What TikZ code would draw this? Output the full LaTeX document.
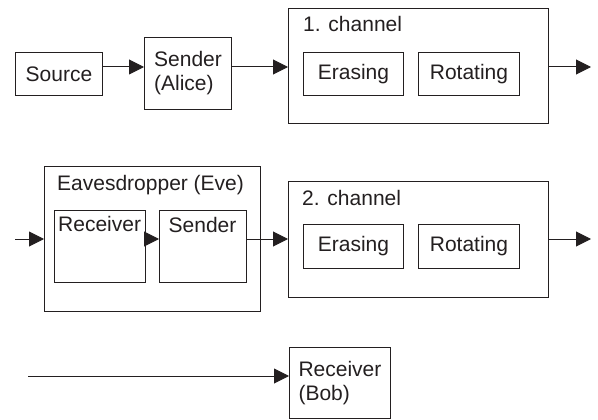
\documentclass[tikz,border=0pt]{standalone}
\usepackage{fontspec}
\setmainfont{Liberation Sans}
\usetikzlibrary{arrows.meta}
\definecolor{ink}{RGB}{35,31,32}
\begin{document}
\begin{tikzpicture}[x=1pt,y=-1pt,
  blk/.style={draw=ink, line width=1pt, inner sep=0pt, anchor=north west,
              text=ink, font=\fontsize{21}{24}\selectfont},
  txt/.style={text=ink, inner sep=0pt, font=\fontsize{21}{24}\selectfont},
  conn/.style={draw=ink, line width=1pt, -{Triangle[length=15pt,width=15pt]}}]
\useasboundingbox (0,0) rectangle (598,420);

% first row: source, Alice and the first channel
\node[blk, minimum width=87, minimum height=43] (src) at (15,52) {Source};
\node[blk, minimum width=87, minimum height=72, align=left] (alice) at (144,37) {Sender\\(Alice)};
\node[blk, minimum width=260, minimum height=115] (ch1) at (288,8) {};
\node[txt, anchor=base west] (ch1lbl) at (303,32) {1. channel};
\node[blk, minimum width=100, minimum height=43] (er1) at (303,52) {Erasing};
\node[blk, minimum width=101, minimum height=43] (rot1) at (418,52) {Rotating};

% second row: Eve and the second channel
\node[blk, minimum width=216, minimum height=145] (eve) at (44,166) {};
\node[txt, anchor=base west] (evelbl) at (57,190) {Eavesdropper (Eve)};
\node[blk, minimum width=91, minimum height=72] (erecv) at (54,210) {};
\node[txt, anchor=base west] (erecvlbl) at (58,231) {Receiver};
\node[blk, minimum width=87, minimum height=72] (esend) at (159,210) {};
\node[txt, anchor=base] (esendlbl) at (202.5,233) {Sender};
\node[blk, minimum width=260, minimum height=116] (ch2) at (288,181) {};
\node[txt, anchor=base west] (ch2lbl) at (302,205) {2. channel};
\node[blk, minimum width=100, minimum height=44] (er2) at (303,224) {Erasing};
\node[blk, minimum width=101, minimum height=44] (rot2) at (418,224) {Rotating};

% third row: Bob
\node[blk, minimum width=101, minimum height=71, align=left] (bob) at (289,347) {Receiver\\(Bob)};

% free ends of the connectors
\coordinate (r1) at (0,67);
\coordinate (out1) at (591,67);
\coordinate (in2) at (15,239);
\coordinate (out2) at (591,239);
\coordinate (in3) at (28,376);

% connectors
\draw[conn] (src.east |- r1) -- (alice.west |- r1);
\draw[conn] (alice.east |- r1) -- (ch1.west |- r1);
\draw[conn] (ch1.east |- r1) -- (out1);
\draw[conn] (in2) -- (in2 -| eve.west);
\draw[conn] (erecv.east |- in2) -- (esend.west |- in2);
\draw[conn] (esend.east |- in2) -- (ch2.west |- in2);
\draw[conn] (ch2.east |- in2) -- (out2);
\draw[conn] (in3) -- (in3 -| bob.west);
\end{tikzpicture}
\end{document}
